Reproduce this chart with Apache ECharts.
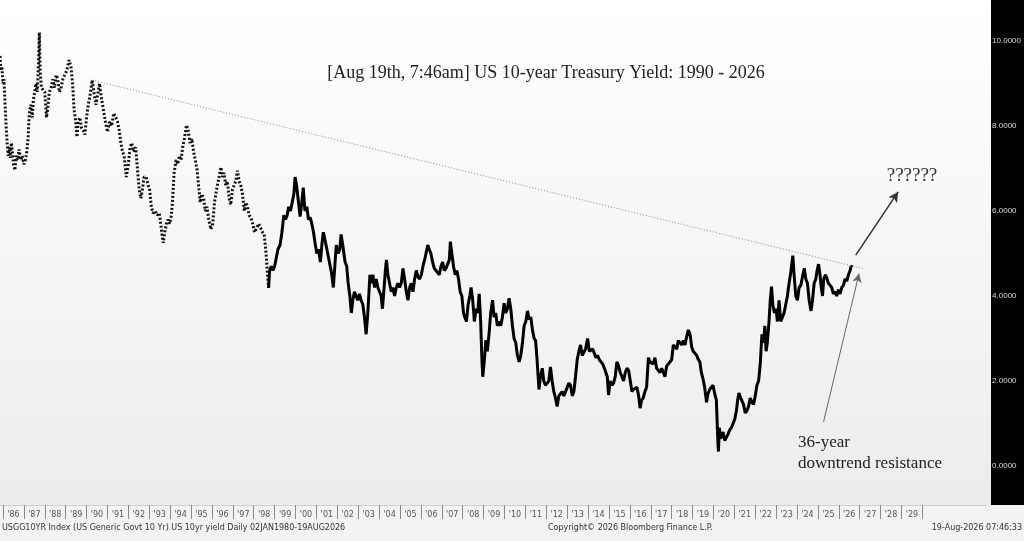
<!DOCTYPE html>
<html>
<head>
<meta charset="utf-8">
<script src="https://cdn.jsdelivr.net/npm/echarts@6/dist/echarts.min.js"></script>
<style>
html,body{margin:0;padding:0;background:#f3f3f3;}
#chart{width:1024px;height:541px;}
</style>
</head>
<body>
<div id="chart"></div>
<script>
// Decimal years and US 10y yields (%)
const years = [
1985.86,1985.90,1985.95,1986.00,1986.05,1986.10,1986.15,1986.20,1986.25,1986.30,1986.35,1986.40,1986.45,1986.50,1986.57,1986.63,1986.70,1986.77,1986.85,1986.92,
1987.00,1987.07,1987.14,1987.20,1987.26,1987.33,1987.40,1987.45,1987.52,1987.58,1987.64,1987.70,1987.74,1987.78,1987.84,1987.92,
1988.00,1988.08,1988.14,1988.22,1988.30,1988.38,1988.46,1988.55,1988.62,1988.70,1988.78,1988.86,1988.95,
1989.05,1989.16,1989.25,1989.33,1989.40,1989.48,1989.54,1989.60,1989.68,1989.76,1989.84,1989.92,
1990.00,1990.08,1990.16,1990.27,1990.35,1990.45,1990.55,1990.62,1990.70,1990.80,1990.90,
1991.00,1991.10,1991.20,1991.30,1991.40,1991.48,1991.56,1991.64,1991.72,1991.80,1991.90,
1992.00,1992.08,1992.16,1992.25,1992.35,1992.45,1992.52,1992.60,1992.67,1992.75,1992.85,1992.95,
1993.02,1993.10,1993.18,1993.28,1993.38,1993.48,1993.55,1993.62,1993.67,1993.74,1993.82,1993.90,1993.98,
1994.06,1994.12,1994.19,1994.28,1994.36,1994.44,1994.52,1994.60,1994.68,1994.78,1994.86,1994.95,
1995.04,1995.12,1995.20,1995.29,1995.36,1995.44,1995.52,1995.60,1995.68,1995.76,1995.85,1995.95,
1996.04,1996.12,1996.22,1996.30,1996.43,1996.50,1996.57,1996.66,1996.74,1996.82,1996.90,1996.98,
1997.06,1997.14,1997.22,1997.30,1997.38,1997.46,1997.55,1997.62,1997.70,1997.78,1997.86,1997.95,
1998.04,1998.14,1998.24,1998.33,1998.42,1998.50,1998.59,1998.66,1998.71,
1998.76,1998.84,1998.92,1999.00,1999.08,1999.16,1999.26,1999.35,1999.44,1999.52,1999.60,1999.67,1999.76,1999.84,1999.92,1999.98,
2000.05,2000.12,2000.22,2000.30,2000.37,2000.45,2000.54,2000.62,2000.70,2000.78,2000.86,2000.95,
2001.02,2001.10,2001.19,2001.26,2001.33,2001.42,2001.50,2001.58,2001.66,2001.72,2001.81,2001.88,2001.95,
2002.04,2002.12,2002.18,2002.26,2002.37,2002.45,2002.52,2002.60,2002.67,2002.74,2002.82,2002.90,2002.98,
2003.06,2003.14,2003.22,2003.30,2003.38,2003.46,2003.56,2003.62,2003.70,2003.78,2003.86,2003.94,
2004.02,2004.10,2004.16,2004.24,2004.30,2004.35,2004.42,2004.50,2004.58,2004.66,2004.74,2004.82,2004.90,2004.98,
2005.06,2005.14,2005.22,2005.30,2005.38,2005.46,2005.54,2005.62,2005.70,2005.78,2005.86,2005.94,
2006.02,2006.10,2006.20,2006.33,2006.40,2006.48,2006.56,2006.64,2006.72,2006.80,2006.88,2006.96,
2007.04,2007.12,2007.20,2007.28,2007.36,2007.41,2007.48,2007.56,2007.64,2007.72,2007.80,2007.88,2007.96,
2008.04,2008.10,2008.18,2008.26,2008.34,2008.40,2008.48,2008.56,2008.64,2008.72,2008.79,2008.86,2008.92,2008.96,
2009.04,2009.11,2009.18,2009.26,2009.34,2009.43,2009.50,2009.58,2009.66,2009.74,2009.82,2009.90,2009.98,
2010.06,2010.14,2010.22,2010.30,2010.38,2010.46,2010.54,2010.62,2010.70,2010.78,2010.86,2010.94,
2011.02,2011.10,2011.18,2011.26,2011.34,2011.42,2011.49,2011.56,2011.65,2011.72,2011.81,2011.88,2011.96,
2012.05,2012.12,2012.20,2012.28,2012.36,2012.44,2012.52,2012.60,2012.68,2012.76,2012.84,2012.92,
2013.00,2013.08,2013.16,2013.24,2013.32,2013.40,2013.48,2013.56,2013.64,2013.72,2013.80,2013.88,2013.98,
2014.06,2014.14,2014.22,2014.30,2014.38,2014.46,2014.54,2014.62,2014.70,2014.78,2014.86,2014.92,2014.98,
2015.06,2015.14,2015.22,2015.30,2015.38,2015.46,2015.54,2015.62,2015.70,2015.78,2015.86,2015.94,
2016.02,2016.10,2016.17,2016.26,2016.34,2016.42,2016.49,2016.56,2016.64,2016.72,2016.80,2016.89,2016.96,
2017.04,2017.12,2017.20,2017.28,2017.36,2017.44,2017.52,2017.60,2017.68,2017.76,2017.84,2017.92,
2018.00,2018.08,2018.16,2018.24,2018.32,2018.40,2018.48,2018.56,2018.64,2018.72,2018.80,2018.88,2018.96,
2019.03,2019.12,2019.20,2019.28,2019.35,2019.42,2019.50,2019.58,2019.67,2019.74,2019.82,2019.90,2019.98,
2020.06,2020.14,2020.18,2020.22,2020.24,2020.28,2020.34,2020.40,2020.46,2020.54,2020.62,2020.70,2020.78,2020.86,2020.94,
2021.02,2021.10,2021.16,2021.22,2021.30,2021.38,2021.44,2021.52,2021.60,2021.68,2021.76,2021.84,2021.92,
2022.00,2022.08,2022.16,2022.24,2022.32,2022.40,2022.46,2022.52,2022.58,2022.66,2022.72,2022.78,2022.84,2022.92,
2023.00,2023.06,2023.14,2023.22,2023.30,2023.38,2023.46,2023.54,2023.62,2023.70,2023.80,2023.86,2023.94,
2024.02,2024.10,2024.18,2024.28,2024.35,2024.42,2024.50,2024.58,2024.67,2024.74,2024.82,2024.90,2024.96,
2025.03,2025.10,2025.16,2025.22,2025.28,2025.36,2025.44,2025.50,2025.58,2025.66,2025.74,2025.82,2025.90,2025.98,
2026.06,2026.14,2026.22,2026.30,2026.38,2026.46,2026.54,2026.60,2026.63
];
const yields = [
9.65,9.3,9.4,9.0,9.1,8.5,8.0,7.6,7.3,7.5,7.25,7.6,7.4,7.1,6.96,7.3,7.2,7.45,7.2,7.3,
7.1,7.2,7.4,7.7,8.3,8.5,8.2,8.6,8.8,9.0,8.8,9.5,10.2,9.3,8.9,8.9,
8.8,8.2,8.4,8.8,8.9,9.1,8.9,9.2,9.1,8.8,8.9,9.1,9.2,
9.3,9.55,9.4,9.0,8.4,8.1,7.74,8.1,8.2,7.95,7.9,7.8,
8.2,8.5,8.7,9.08,8.8,8.5,8.8,9.0,8.7,8.4,8.1,
7.86,8.1,8.0,8.3,8.2,8.1,7.9,7.6,7.4,7.3,6.8,
7.1,7.5,7.6,7.4,7.5,6.9,6.5,6.3,6.5,6.8,6.8,6.6,
6.5,6.1,5.95,6.0,5.9,5.95,5.7,5.4,5.25,5.5,5.7,5.8,5.7,
5.9,6.3,6.9,7.2,7.1,7.3,7.2,7.5,7.7,8.02,7.9,7.6,
7.7,7.4,7.2,6.96,6.6,6.2,6.4,6.3,6.0,6.1,5.8,5.57,
5.7,6.2,6.5,6.7,7.03,6.8,6.9,6.6,6.7,6.3,6.15,6.5,
6.6,6.7,6.95,6.7,6.6,6.4,6.0,6.2,6.1,5.9,5.85,5.7,
5.5,5.6,5.7,5.6,5.5,5.45,5.0,4.5,4.19,
4.6,4.7,4.6,4.7,4.9,5.1,5.2,5.5,5.9,5.8,5.9,6.1,6.0,6.2,6.4,6.8,
6.6,6.3,5.87,6.2,6.55,6.0,6.1,5.8,5.85,5.7,5.5,5.2,
5.0,5.1,4.8,5.2,5.5,5.3,5.1,4.9,4.7,4.55,4.2,4.7,5.2,
5.0,5.1,5.45,5.2,4.8,4.7,4.3,4.0,3.6,3.9,4.1,4.0,3.9,
4.05,3.9,3.8,3.5,3.1,3.6,4.5,4.3,4.5,4.2,4.4,4.2,
4.1,4.0,3.7,4.2,4.6,4.85,4.5,4.3,4.1,4.2,4.0,4.2,4.3,4.2,
4.3,4.65,4.4,4.1,3.9,4.2,4.3,4.1,4.4,4.6,4.45,4.4,
4.5,4.7,4.9,5.2,5.1,5.0,4.8,4.65,4.6,4.55,4.5,4.7,
4.8,4.6,4.65,4.75,4.85,5.28,5.0,4.7,4.5,4.6,4.4,4.1,4.0,
3.6,3.5,3.4,3.8,4.0,4.2,3.9,3.4,3.7,3.6,4.05,3.4,2.5,2.1,
2.5,2.96,2.7,3.1,3.6,3.9,3.5,3.6,3.3,3.4,3.3,3.5,3.83,
3.6,3.7,3.95,3.7,3.3,3.0,2.9,2.6,2.45,2.6,2.9,3.3,
3.4,3.65,3.45,3.5,3.2,3.0,2.95,2.5,1.8,2.1,2.3,2.0,1.9,
1.95,2.0,2.33,2.0,1.75,1.6,1.4,1.65,1.7,1.75,1.65,1.75,
1.85,1.95,1.9,1.65,1.75,2.1,2.5,2.7,2.85,2.6,2.6,2.75,3.0,
2.7,2.7,2.75,2.65,2.55,2.6,2.5,2.45,2.4,2.3,2.3,2.1,1.67,
2.0,1.9,1.95,2.1,2.45,2.35,2.2,2.1,2.0,2.2,2.3,2.25,
2.0,1.75,1.8,1.8,1.85,1.65,1.36,1.55,1.6,1.75,1.85,2.55,2.45,
2.45,2.4,2.55,2.3,2.25,2.2,2.3,2.2,2.1,2.35,2.4,2.4,
2.5,2.85,2.85,2.75,2.95,2.9,2.85,2.95,2.85,3.05,3.2,3.1,2.8,
2.7,2.65,2.6,2.5,2.45,2.2,2.05,1.85,1.5,1.7,1.8,1.85,1.9,
1.7,1.55,1.0,0.5,0.34,0.9,0.65,0.7,0.8,0.6,0.6,0.75,0.85,0.9,0.9,
1.1,1.3,1.55,1.72,1.6,1.6,1.45,1.25,1.3,1.4,1.6,1.5,1.45,
1.65,1.9,2.0,2.4,3.1,2.9,3.3,2.7,2.9,3.4,3.9,4.22,3.8,3.6,
3.7,3.4,3.9,3.4,3.5,3.6,3.8,4.0,4.3,4.55,4.95,4.5,4.0,
3.9,4.2,4.25,4.5,4.65,4.4,4.3,3.9,3.65,3.9,4.3,4.4,4.6,
4.75,4.5,4.2,4.0,4.4,4.5,4.4,4.3,4.3,4.2,4.05,4.1,4.0,4.15,
4.05,4.2,4.25,4.4,4.35,4.5,4.6,4.72,4.68
];
const splitYear = 1998.71;
const yearTicks = [];
for (let y = 1986; y <= 2030; y++) yearTicks.push(y);
const yearLabelPos = yearTicks.slice(0, -1).map(y => y + 0.5);
const yTicks = [0, 2, 4, 6, 8, 10];
const trendLine = [[1990.27, 9.08], [2027.13, 4.65]];
const arrowUp = [[2026.81, 4.96], [2028.84, 6.45]];
const arrowResist = [[2025.27, 1.04], [2026.97, 4.53]];

const early = [], late = [];
years.forEach((t, i) => {
  if (t <= splitYear) early.push([t, yields[i]]);
  if (t >= splitYear) late.push([t, yields[i]]);
});

const chart = echarts.init(document.getElementById('chart'), null, {renderer: 'canvas'});
chart.setOption({
  animation: false,
  backgroundColor: '#f3f3f3',
  grid: {left: 0, right: 33, top: 0, bottom: 36, containLabel: false},
  xAxis: {
    type: 'value', min: 1985.857, max: 2033.048,
    axisLine: {show: true, onZero: false, lineStyle: {color: '#d0d0d0', width: 1}},
    axisTick: {show: true, customValues: yearTicks, length: 14, lineStyle: {color: '#8a8a8a', width: 1}},
    axisLabel: {customValues: yearLabelPos, margin: 6, color: '#555', fontSize: 8, fontFamily: 'DejaVu Sans',
      formatter: v => "'" + String(Math.floor(v)).slice(2)},
    splitLine: {show: false}
  },
  yAxis: {
    type: 'value', position: 'right', min: -0.918, max: 10.965,
    axisLine: {show: false}, axisTick: {show: false}, splitLine: {show: false},
    axisLabel: {customValues: yTicks, margin: 6, color: '#dcdcdc', fontSize: 8, fontFamily: 'Liberation Sans',
      formatter: v => v.toFixed(4)}
  },
  graphic: [
    {type: 'rect', z: -10, shape: {x: 0, y: 0, width: 991, height: 505},
      style: {fill: new echarts.graphic.LinearGradient(0, 0, 0, 1, [{offset: 0, color: '#ffffff'}, {offset: 1, color: '#ececec'}])}},
    {type: 'rect', z: -5, shape: {x: 991, y: 0, width: 33, height: 505}, style: {fill: '#000'}},
    {type: 'text', z: 10, style: {text: '[Aug 19th, 7:46am] US 10-year Treasury Yield: 1990 - 2026', x: 546, y: 73,
      textAlign: 'center', textVerticalAlign: 'middle', font: '18px "Liberation Serif"', fill: '#222'}},
    {type: 'text', z: 10, style: {text: '??????', x: 912, y: 176, textAlign: 'center', textVerticalAlign: 'middle',
      font: '19px "Liberation Serif"', fill: '#333'}},
    {type: 'text', z: 10, style: {text: '36-year', x: 798, y: 443, textAlign: 'left', textVerticalAlign: 'middle',
      font: '17px "Liberation Serif"', fill: '#222'}},
    {type: 'text', z: 10, style: {text: 'downtrend resistance', x: 798, y: 464, textAlign: 'left', textVerticalAlign: 'middle',
      font: '17px "Liberation Serif"', fill: '#222'}},
    {type: 'text', z: 10, style: {text: 'USGG10YR Index (US Generic Govt 10 Yr) US 10yr yield Daily 02JAN1980-19AUG2026', x: 2, y: 528,
      textAlign: 'left', textVerticalAlign: 'middle', font: '8px "DejaVu Sans"', fill: '#333'}},
    {type: 'text', z: 10, style: {text: 'Copyright\u00A9 2026 Bloomberg Finance L.P.', x: 548, y: 528,
      textAlign: 'left', textVerticalAlign: 'middle', font: '8px "DejaVu Sans"', fill: '#333'}},
    {type: 'text', z: 10, style: {text: '19-Aug-2026 07:46:33', x: 1022, y: 528,
      textAlign: 'right', textVerticalAlign: 'middle', font: '8px "DejaVu Sans"', fill: '#333'}}
  ],
  series: [
    {
      type: 'line', data: early, showSymbol: false, symbol: 'none', z: 3,
      lineStyle: {color: '#111', width: 3, type: [2, 2]}
    },
    {
      type: 'line', data: late, showSymbol: false, symbol: 'none', z: 3,
      lineStyle: {color: '#000', width: 3}
    },
    {
      type: 'line', data: [], z: 4,
      markLine: {
        silent: true, animation: false,
        label: {show: false},
        data: [
          [{coord: trendLine[0], symbol: 'none', lineStyle: {color: '#888', width: 1, type: [1, 2]}},
           {coord: trendLine[1], symbol: 'none'}],
          [{coord: arrowUp[0], symbol: 'none', lineStyle: {color: '#333', width: 1.5, type: 'solid'}},
           {coord: arrowUp[1], symbol: 'arrow', symbolSize: [8, 10]}],
          [{coord: arrowResist[0], symbol: 'none', lineStyle: {color: '#666', width: 1, type: 'solid'}},
           {coord: arrowResist[1], symbol: 'arrow', symbolSize: [7, 9]}]
        ]
      }
    }
  ]
});
</script>
</body>
</html>
